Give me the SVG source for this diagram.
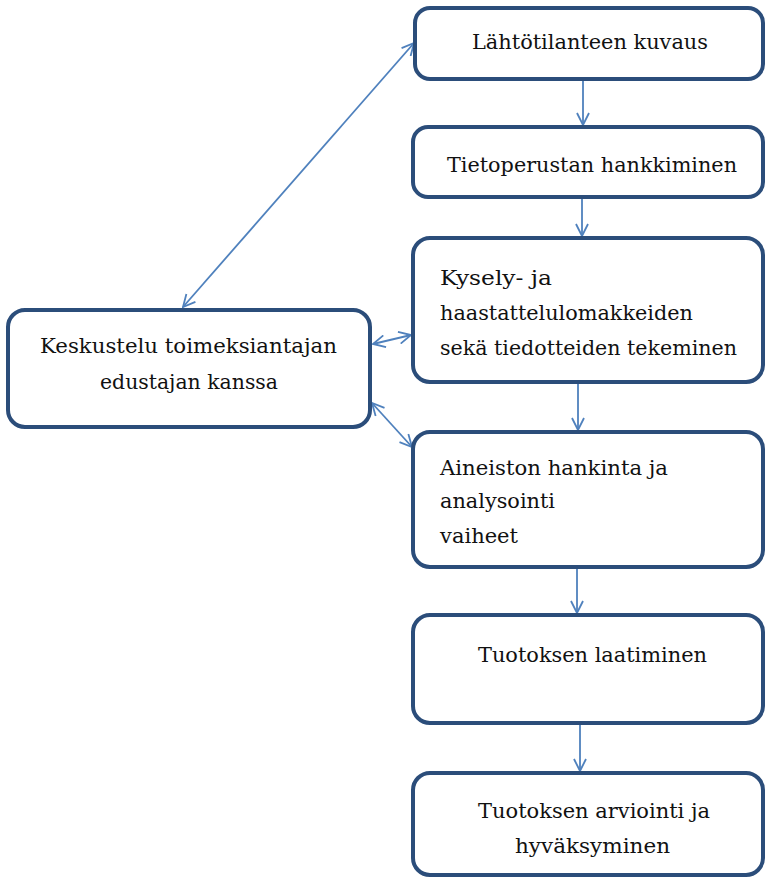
<svg xmlns="http://www.w3.org/2000/svg" width="765" height="879" viewBox="0 0 765 879">
<defs>
<style>
.box{fill:#fff;stroke:#2b4d7a;stroke-width:4}
.c{stroke:#4f81bd;stroke-width:1.8;fill:none}
</style>
<marker id="ah" viewBox="0 0 14 14" refX="13" refY="7" markerWidth="14" markerHeight="14" markerUnits="userSpaceOnUse" orient="auto-start-reverse">
<path d="M1,1 L13,7 L1,13" fill="none" stroke="#4f81bd" stroke-width="1.8"/>
</marker>
</defs>
<rect width="765" height="879" fill="#fff"/>
<g id="connectors">
<line class="c" x1="583" y1="80" x2="583" y2="125" marker-end="url(#ah)"/>
<line class="c" x1="582" y1="198" x2="582" y2="236" marker-end="url(#ah)"/>
<line class="c" x1="578" y1="383" x2="578" y2="430" marker-end="url(#ah)"/>
<line class="c" x1="577" y1="568" x2="577" y2="613" marker-end="url(#ah)"/>
<line class="c" x1="580" y1="724" x2="580" y2="771" marker-end="url(#ah)"/>
<line class="c" x1="183" y1="307" x2="414" y2="43" marker-start="url(#ah)" marker-end="url(#ah)"/>
<line class="c" x1="373" y1="344" x2="411" y2="335" marker-start="url(#ah)" marker-end="url(#ah)"/>
<line class="c" x1="372" y1="403" x2="412" y2="447" marker-start="url(#ah)" marker-end="url(#ah)"/>
</g>
<g font-family="'DejaVu Serif', 'Liberation Serif', serif" font-size="21" fill="#111">
<g id="n1"><rect class="box" x="415" y="8" width="348" height="71" rx="15"/>
<text x="472" y="49" textLength="236" lengthAdjust="spacingAndGlyphs">Lähtötilanteen kuvaus</text></g>
<g id="n2"><rect class="box" x="413" y="127" width="350" height="70" rx="15"/>
<text x="447" y="172" textLength="290" lengthAdjust="spacingAndGlyphs">Tietoperustan hankkiminen</text></g>
<g id="n3"><rect class="box" x="413" y="238" width="350" height="144" rx="17"/>
<text x="440" y="285" textLength="112" lengthAdjust="spacingAndGlyphs">Kysely- ja</text>
<text x="440" y="320" textLength="253" lengthAdjust="spacingAndGlyphs">haastattelulomakkeiden</text>
<text x="440" y="355" textLength="297" lengthAdjust="spacingAndGlyphs">sekä tiedotteiden tekeminen</text></g>
<g id="n4"><rect class="box" x="8" y="310" width="362" height="117" rx="17"/>
<text x="40" y="353" textLength="297" lengthAdjust="spacingAndGlyphs">Keskustelu toimeksiantajan</text>
<text x="100" y="389" textLength="178" lengthAdjust="spacingAndGlyphs">edustajan kanssa</text></g>
<g id="n5"><rect class="box" x="413" y="432" width="350" height="135" rx="17"/>
<text x="440" y="475" textLength="228" lengthAdjust="spacingAndGlyphs">Aineiston hankinta ja</text>
<text x="440" y="508" textLength="115" lengthAdjust="spacingAndGlyphs">analysointi</text>
<text x="440" y="543" textLength="78" lengthAdjust="spacingAndGlyphs">vaiheet</text></g>
<g id="n6"><rect class="box" x="413" y="615" width="350" height="108" rx="17"/>
<text x="478" y="662" textLength="229" lengthAdjust="spacingAndGlyphs">Tuotoksen laatiminen</text></g>
<g id="n7"><rect class="box" x="413" y="773" width="350" height="102" rx="17"/>
<text x="478" y="818" textLength="232" lengthAdjust="spacingAndGlyphs">Tuotoksen arviointi ja</text>
<text x="515" y="853" textLength="155" lengthAdjust="spacingAndGlyphs">hyväksyminen</text></g>
</g>
</svg>
